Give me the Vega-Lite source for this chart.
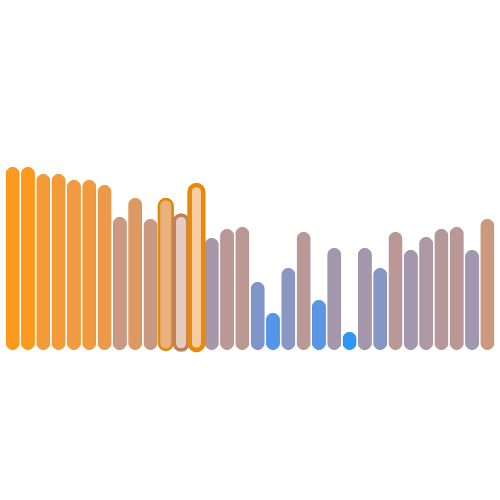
{
  "$schema": "https://vega.github.io/schema/vega-lite/v6.json",
  "autosize": {"type": "fit", "contains": "padding"},
  "width": 500,
  "height": 500,
  "background": "white",
  "config": {"view": {"stroke": null}},
  "data": {
    "values": [
      {"id": 1, "value": 183, "score": 1.0, "state": "none"},
      {"id": 2, "value": 183, "score": 1.0, "state": "none"},
      {"id": 3, "value": 176, "score": 0.95, "state": "none"},
      {"id": 4, "value": 176, "score": 0.95, "state": "none"},
      {"id": 5, "value": 170, "score": 0.93, "state": "none"},
      {"id": 6, "value": 170, "score": 0.93, "state": "none"},
      {"id": 7, "value": 165, "score": 0.9, "state": "none"},
      {"id": 8, "value": 133, "score": 0.69, "state": "none"},
      {"id": 9, "value": 152, "score": 0.81, "state": "none"},
      {"id": 10, "value": 131, "score": 0.67, "state": "none"},
      {"id": 11, "value": 151, "score": 0.85, "state": "hover"},
      {"id": 12, "value": 135, "score": 0.7, "state": "select"},
      {"id": 13, "value": 165, "score": 0.92, "state": "both"},
      {"id": 14, "value": 112, "score": 0.49, "state": "none"},
      {"id": 15, "value": 121, "score": 0.59, "state": "none"},
      {"id": 16, "value": 123, "score": 0.6, "state": "none"},
      {"id": 17, "value": 68, "score": 0.28, "state": "none"},
      {"id": 18, "value": 37, "score": 0.1, "state": "none"},
      {"id": 19, "value": 82, "score": 0.33, "state": "none"},
      {"id": 20, "value": 118, "score": 0.58, "state": "none"},
      {"id": 21, "value": 50, "score": 0.13, "state": "none"},
      {"id": 22, "value": 102, "score": 0.47, "state": "none"},
      {"id": 23, "value": 18, "score": 0.0, "state": "none"},
      {"id": 24, "value": 102, "score": 0.47, "state": "none"},
      {"id": 25, "value": 82, "score": 0.32, "state": "none"},
      {"id": 26, "value": 118, "score": 0.58, "state": "none"},
      {"id": 27, "value": 100, "score": 0.46, "state": "none"},
      {"id": 28, "value": 113, "score": 0.52, "state": "none"},
      {"id": 29, "value": 121, "score": 0.56, "state": "none"},
      {"id": 30, "value": 123, "score": 0.58, "state": "none"},
      {"id": 31, "value": 100, "score": 0.45, "state": "none"},
      {"id": 32, "value": 131, "score": 0.69, "state": "none"}
    ]
  },
  "encoding": {
    "x": {"field": "id", "type": "ordinal", "axis": null, "sort": "ascending"},
    "y": {"field": "value", "type": "quantitative", "axis": null, "scale": {"domain": [-145, 345]}},
    "color": {
      "field": "score",
      "type": "quantitative",
      "legend": null,
      "scale": {"domain": [0, 1], "range": ["#1a8af7", "#fa8f05"], "interpolate": {"type": "rgb", "gamma": 1.5}}
    }
  },
  "layer": [
    {
      "transform": [{"filter": "datum.state === 'none'"}],
      "mark": {"type": "bar", "cornerRadius": 7, "fillOpacity": 0.9},
      "encoding": {
        "stroke": {
          "field": "score",
          "type": "quantitative",
          "legend": null,
          "scale": {"domain": [0, 1], "range": ["#1a8af7", "#fa8f05"], "interpolate": {"type": "rgb", "gamma": 1.5}}
        },
        "strokeWidth": {"value": 1}
      }
    },
    {
      "transform": [{"filter": "datum.state === 'hover'"}],
      "mark": {"type": "bar", "cornerRadius": 7, "fillOpacity": 0.7},
      "encoding": {"stroke": {"value": "#dd8a10"}, "strokeWidth": {"value": 2.5}}
    },
    {
      "transform": [{"filter": "datum.state === 'select'"}],
      "mark": {"type": "bar", "cornerRadius": 7, "fillOpacity": 0.45},
      "encoding": {"stroke": {"value": "#c08060"}, "strokeWidth": {"value": 3.5}}
    },
    {
      "transform": [{"filter": "datum.state === 'both'"}],
      "mark": {"type": "bar", "cornerRadius": 7, "fillOpacity": 0.45},
      "encoding": {"stroke": {"value": "#e8890a"}, "strokeWidth": {"value": 4.5}}
    }
  ]
}
